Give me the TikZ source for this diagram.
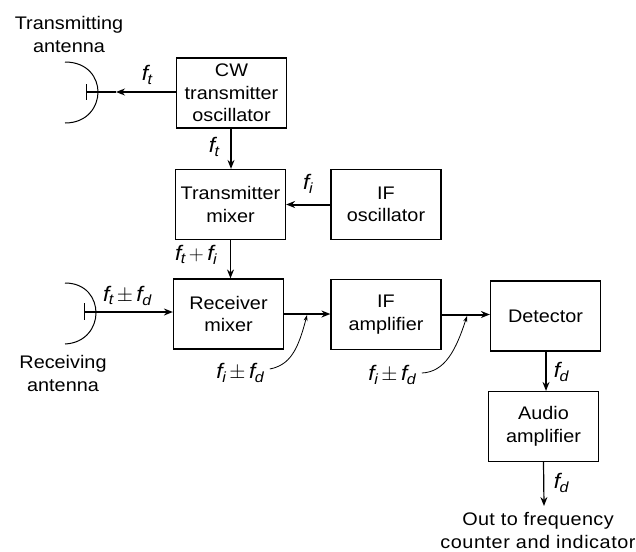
\documentclass[tikz,border=0pt]{standalone}
\usepackage{fontspec}
\setmainfont[FakeStretch=1.09]{Liberation Sans}
\usetikzlibrary{arrows.meta}
\newcommand{\fq}[1]{$\mathit{f}_{\mathit{#1}}$}
\tikzset{
 x=1pt,y=-1pt,
 lbl/.style={align=center,font=\fontsize{18.2}{23}\selectfont,inner sep=0pt},
 sym/.style={font=\fontsize{21}{22}\selectfont,inner sep=0pt},
 blockbox/.style={draw,line width=1.2pt,align=center,font=\fontsize{18.2}{22.5}\selectfont,inner sep=0pt,minimum width=110pt,minimum height=70pt},
 sig/.style={line width=1.2pt},
 sigb/.style={line width=2pt},
 tip/.style={-{Stealth[length=9pt,width=7pt,inset=3pt]}},
 ant/.style={line width=1pt},
}
\begin{document}
\begin{tikzpicture}
\useasboundingbox (0,0) rectangle (636,551);
\node[blockbox] (cw) at (231.5,93) {CW\\transmitter\\oscillator};
\node[blockbox] (tm) at (230.5,204.5) {Transmitter\\mixer};
\node[blockbox] (ifo) at (386,204.5) {IF\\oscillator};
\node[blockbox] (rm) at (228.5,314) {Receiver\\mixer};
\node[blockbox] (ifa) at (386,314.5) {IF\\amplifier};
\node[blockbox] (det) at (545.5,316) {Detector};
\node[blockbox] (aud) at (543.5,426.5) {Audio\\amplifier};

\node[lbl] (txl) at (69,34) {Transmitting\\antenna};
\node[lbl] (rxl) at (63,373) {Receiving\\antenna};
\node[lbl] (outl) at (538,530) {{\addfontfeature{LetterSpace=2}Out to frequency}\\{\addfontfeature{LetterSpace=3}counter and indicator}};

% antennas
\coordinate (txfeed) at (86,92);
\coordinate (rxfeed) at (84,312);
\draw[ant] (65,62) .. controls (88,62) and (98,78) .. (98,92) .. controls (98,106) and (88,123) .. (65,123);
\draw[ant] (65,283) .. controls (86,283) and (96,298) .. (96,313) .. controls (96,327) and (86,343) .. (65,344);
\draw[ant] (86,84) -- (86,100);
\draw[ant] (84,303) -- (84,320);

% connectors
\coordinate (m1) at (116,92);
\draw[sigb,tip] (cw.west |- txfeed) -- (m1);
\draw[sigb] (m1) -- (txfeed);
\draw[sig,tip] (cw.south -| 231,128) -- (tm.north -| 231,170);
\draw[sigb,tip] (ifo.west) -- (tm.east);
\draw[sig,tip] (tm.south) -- (rm.north -| tm.south);
\draw[sigb,tip] (rxfeed) -- (rm.west |- rxfeed);
\draw[sigb,tip] (rm.east) -- (ifa.west |- rm.east);
\draw[sigb,tip] (ifa.east) -- (det.west |- ifa.east);
\draw[sigb,tip] (det.south -| 546,351) -- (aud.north -| 546,391);
\coordinate (outend) at (544,506);
\draw[sig,tip] (aud.south) -- (outend);

% symbols
\node[sym] (s1) at (147,75) {\fq{t}};
\node[sym] (s2) at (214,147) {\fq{t}};
\node[sym] (s3) at (308,184) {\fq{i}};
\node[sym] (s4) at (196,255) {\fq{t}$\,+\,$\fq{i}};
\node[sym] (s5) at (127,296) {\fq{t}$\,\pm\,$\fq{d}};
\node[sym] (s6) at (240,373) {\fq{i}$\,\pm\,$\fq{d}};
\node[sym] (s7) at (392,375) {\fq{i}$\,\pm\,$\fq{d}};
\node[sym] (s8) at (561,372) {\fq{d}};
\node[sym] (s9) at (561,483) {\fq{d}};

% leaders
\coordinate (l1) at (307,315);
\coordinate (l2) at (467,316);
\draw[line width=.8pt,-{Stealth[length=6pt,width=4pt]}] (s6.east) ++(6,-4) .. controls (290,365) and (298,350) .. (l1);
\draw[line width=.8pt,-{Stealth[length=6pt,width=4pt]}] (s7.east) ++(6,-2) .. controls (445,372) and (456,350) .. (l2);
\end{tikzpicture}
\end{document}
